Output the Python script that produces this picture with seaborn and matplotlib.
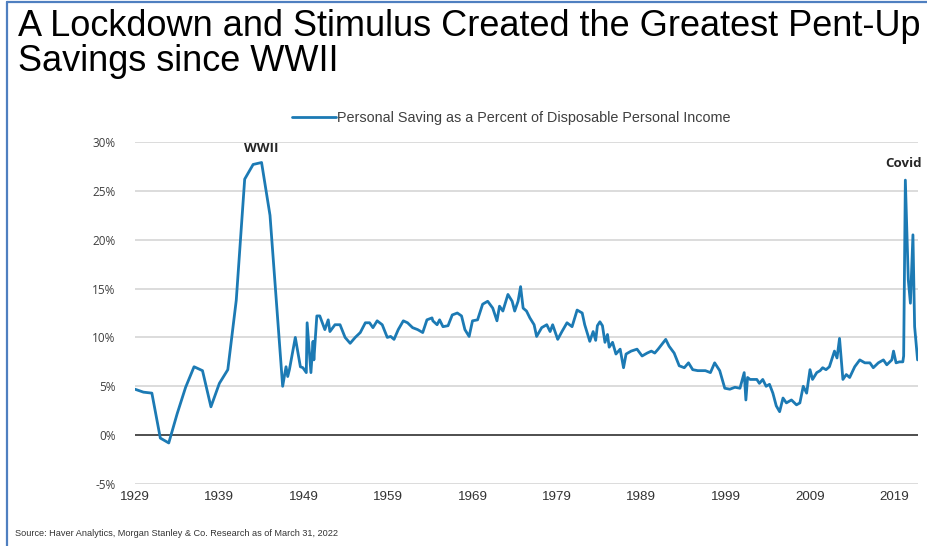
import matplotlib
matplotlib.use("Agg")
import matplotlib.pyplot as plt
import seaborn as sns
import pandas as pd
from matplotlib.lines import Line2D
from matplotlib.ticker import FuncFormatter

# Personal saving rate (year, % of disposable income)
years_early = [1929, 1930, 1931, 1932, 1933, 1934, 1935, 1936, 1937, 1938,
               1939, 1940, 1941, 1942, 1943, 1944, 1945, 1946.5]
rate_early = [4.7, 4.4, 4.3, -0.3, -0.8, 2.2, 4.9, 7.0, 6.6, 2.9,
              5.3, 6.7, 13.8, 26.2, 27.7, 27.9, 22.5, 5.0]

years_postwar = [1946.9, 1947.1, 1947.3, 1948.0, 1948.6, 1948.9, 1949.3, 1949.4,
                 1949.85, 1950.1, 1950.2, 1950.55, 1950.9, 1951.5, 1951.9, 1952.1,
                 1952.7, 1953.3, 1953.9, 1954.5, 1955.1, 1955.7, 1956.3, 1956.8,
                 1957.2, 1957.7, 1958.3, 1958.9, 1959.3, 1959.7, 1960.2, 1960.8,
                 1961.3, 1961.9, 1962.5, 1963.1, 1963.6, 1964.2, 1964.3, 1964.8,
                 1965.1, 1965.5, 1966.1, 1966.6, 1967.2, 1967.7, 1968.1, 1968.6,
                 1969.0, 1969.6, 1970.2, 1970.8, 1971.4, 1971.9, 1972.2, 1972.6,
                 1973.2, 1973.7, 1974.0, 1974.4, 1974.7, 1975.0, 1975.4, 1975.8,
                 1976.3, 1976.6, 1977.2, 1977.8, 1978.2, 1978.5, 1979.1, 1979.6,
                 1980.2, 1980.8, 1981.4, 1982.0, 1982.3, 1982.9]
rate_postwar = [7.0, 6.0, 6.7, 10.0, 7.0, 6.9, 6.4, 11.5,
                6.4, 9.6, 7.7, 12.2, 12.2, 10.8, 11.8, 10.6,
                11.3, 11.3, 10.0, 9.4, 10.0, 10.5, 11.5, 11.5,
                11.0, 11.7, 11.3, 10.0, 10.1, 9.8, 10.8, 11.7,
                11.5, 11.0, 10.8, 10.5, 11.8, 12.0, 11.7, 11.3,
                11.8, 11.1, 11.2, 12.3, 12.5, 12.2, 10.8, 10.1,
                11.7, 11.8, 13.4, 13.7, 13.0, 11.7, 13.2, 12.7,
                14.4, 13.7, 12.7, 13.7, 15.2, 13.0, 12.7, 12.0,
                11.3, 10.1, 11.0, 11.3, 10.6, 11.3, 9.8, 10.6,
                11.5, 11.1, 12.8, 12.5, 11.3, 9.6]

years_late = [1983.3, 1983.6, 1983.8, 1984.1, 1984.4, 1984.7, 1985.0, 1985.2,
              1985.6, 1986.0, 1986.5, 1986.9, 1987.2, 1987.8, 1988.5, 1989.1,
              1989.7, 1990.2, 1990.6, 1991.0, 1991.9, 1992.3, 1992.9, 1993.5,
              1994.1, 1994.6, 1995.1, 1995.7, 1996.6, 1997.2, 1997.7, 1998.3,
              1998.9, 1999.5, 2000.1, 2000.7, 2001.2, 2001.4, 2001.6, 2001.9,
              2002.7, 2003.0, 2003.4, 2003.8, 2004.2, 2004.6, 2005.0, 2005.4,
              2005.8, 2006.2, 2006.8, 2007.4, 2007.8, 2008.2, 2008.6, 2009.0,
              2009.3, 2009.8, 2010.2, 2010.5, 2010.9, 2011.3, 2011.9, 2012.2,
              2012.5, 2012.9, 2013.3, 2013.7, 2014.3, 2014.9, 2015.5, 2016.1,
              2016.5, 2017.1, 2017.7, 2018.1, 2018.7, 2018.9, 2019.2, 2019.6,
              2020.0, 2020.1, 2020.3, 2020.65, 2020.9, 2021.2, 2021.4, 2021.6,
              2021.75]
rate_late = [10.6, 9.7, 11.2, 11.6, 11.2, 9.5, 10.3, 9.0,
             9.5, 8.3, 8.8, 6.9, 8.3, 8.6, 8.8, 8.1,
             8.4, 8.6, 8.4, 8.8, 9.8, 9.1, 8.4, 7.1,
             6.9, 7.4, 6.7, 6.6, 6.6, 6.4, 7.4, 6.6,
             4.8, 4.7, 4.9, 4.8, 6.4, 3.6, 5.9, 5.7,
             5.7, 5.3, 5.7, 5.0, 5.2, 4.3, 3.0, 2.4,
             3.8, 3.3, 3.6, 3.1, 3.3, 5.0, 4.3, 6.7,
             5.7, 6.4, 6.6, 6.9, 6.7, 7.0, 8.6, 7.9,
             9.9, 5.7, 6.2, 5.9, 7.0, 7.7, 7.4, 7.4,
             6.9, 7.4, 7.7, 7.2, 7.7, 8.6, 7.4, 7.5,
             7.5, 8.1, 26.1, 15.9, 13.5, 20.5, 11.1, 9.1,
             7.7]

x_ticks = [1929, 1939, 1949, 1959, 1969, 1979, 1989, 1999, 2009, 2019]
y_ticks = [-5, 0, 5, 10, 15, 20, 25, 30]

series_name = "Personal Saving as a Percent of Disposable Personal Income"
df = pd.DataFrame({
    "year": years_early + years_postwar + years_late,
    "rate": rate_early + rate_postwar + rate_late,
})
df["series"] = series_name

sns.set_style("white")
plt.rcParams["font.family"] = ["Liberation Sans", "DejaVu Sans"]

fig = plt.figure(figsize=(9.28, 5.46), dpi=100)
ax = fig.add_axes([135 / 928, 1 - 484 / 546, (918 - 135) / 928, (484 - 142) / 546])

for v in y_ticks:
    if v != 0:
        ax.axhline(v, color="#d9d9d9", lw=1.3, zorder=0)
ax.axhline(0, color="#404040", lw=1.3, zorder=1)

sns.lineplot(data=df, x="year", y="rate", hue="series", estimator=None, sort=False,
             palette=["#1c7ab4"], lw=2.0, ax=ax, zorder=3)

ax.set_xlim(1929, 2021.8)
ax.set_ylim(-5, 30)
ax.set_xticks(x_ticks)
ax.set_yticks(y_ticks)
ax.yaxis.set_major_formatter(FuncFormatter(lambda v, p: f"{v:.0f}%"))
ax.tick_params(axis="y", length=0, pad=14, labelsize=8.5, labelcolor="#404040")
ax.tick_params(axis="x", length=0, pad=5, labelsize=9.6, labelcolor="#333333")
for lab in ax.get_yticklabels():
    lab.set_family("Open Sans")
ax.set_xlabel("")
ax.set_ylabel("")
sns.despine(ax=ax, left=True, bottom=True)

leg = ax.legend(loc="center", bbox_to_anchor=(0.481, 1 + 24 / 342), frameon=False,
                handlelength=3.0, handletextpad=0.1, borderaxespad=0,
                prop={"size": 10.4}, labelcolor="#404040")
leg.set_title(None)

ax.text(1944, 29.3, "WWII", ha="center", va="center", fontsize=9.5,
        fontweight="bold", family="Open Sans", color="#262626")
ax.text(2022.3, 27.8, "Covid", ha="right", va="center", fontsize=9.5,
        fontweight="bold", family="Open Sans", color="#262626", clip_on=False)

fig.text(18 / 928, 1 - 9 / 546,
         "A Lockdown and Stimulus Created the Greatest Pent-Up\nSavings since WWII",
         ha="left", va="top", fontsize=26, color="black", linespacing=1.0)
fig.text(15 / 928, 1 - 533 / 546,
         "Source: Haver Analytics, Morgan Stanley & Co. Research as of March 31, 2022",
         ha="left", va="center", fontsize=6.6, color="#333333")

# blue frame edges along the left and top of the slide
fig.add_artist(Line2D([7 / 928, 7 / 928], [0, 1 - 2 / 546], color="#4f7fc0", lw=1.6))
fig.add_artist(Line2D([7 / 928, 1], [1 - 2 / 546, 1 - 2 / 546], color="#4f7fc0", lw=1.6))

fig.savefig("out.png", dpi=100)
